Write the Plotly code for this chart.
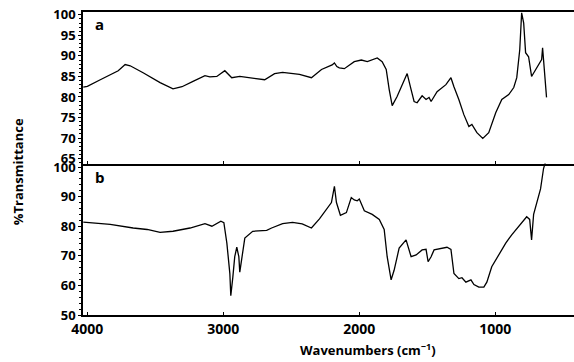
import plotly.graph_objects as go
from plotly.subplots import make_subplots

# Spectrum a (top panel)
wn_a = [4030, 4000, 3905, 3773, 3722, 3685, 3590, 3465, 3370, 3304, 3223, 3135, 3099, 3048,
        2989, 2938, 2879, 2784, 2696, 2623, 2564, 2440, 2352, 2278, 2200, 2183, 2165, 2147,
        2110, 2037, 1985, 1941, 1868, 1832, 1802, 1780, 1758, 1722, 1685, 1648, 1619, 1597,
        1575, 1538, 1509, 1487, 1472, 1428, 1363, 1326, 1304, 1268, 1231, 1194, 1172, 1135,
        1092, 1048, 996, 952, 901, 864, 842, 820, 806, 791, 777, 755, 733, 703, 659, 652,
        637, 623]
t_a = [82.4, 82.6, 84.2, 86.4, 87.9, 87.6, 85.9, 83.5, 82.0, 82.5, 83.8, 85.2, 84.9, 85.0,
       86.4, 84.7, 85.0, 84.5, 84.2, 85.7, 86.0, 85.5, 84.7, 86.7, 87.8, 88.3, 87.4, 87.1,
       86.9, 88.6, 89.0, 88.6, 89.5, 88.6, 86.7, 81.8, 77.9, 80.1, 83.0, 85.7, 81.8, 78.9,
       78.6, 80.3, 79.4, 79.9, 78.9, 81.3, 83.0, 84.7, 82.5, 79.4, 75.7, 72.8, 73.3, 71.3,
       69.9, 71.3, 76.2, 79.4, 80.6, 82.3, 84.7, 91.5, 100.5, 98.0, 90.8, 89.8, 85.0, 86.7,
       89.1, 92.0, 84.7, 79.9]

# Spectrum b (bottom panel)
wn_b = [4030, 3832, 3663, 3560, 3465, 3370, 3245, 3135, 3084, 3018, 2996, 2974, 2952, 2945,
        2930, 2916, 2901, 2886, 2879, 2864, 2842, 2784, 2681, 2645, 2564, 2491, 2420, 2352,
        2293, 2205, 2183, 2168, 2139, 2095, 2059, 2037, 2015, 2000, 1963, 1905, 1853, 1817,
        1795, 1766, 1744, 1707, 1656, 1619, 1582, 1538, 1509, 1494, 1472, 1450, 1399, 1355,
        1326, 1304, 1268, 1245, 1216, 1179, 1157, 1121, 1084, 1062, 1026, 974, 923, 879,
        828, 769, 747, 733, 718, 667, 645, 630]
t_b = [81.4, 80.6, 79.4, 78.9, 77.9, 78.3, 79.4, 80.9, 80.0, 81.7, 81.2, 74.3, 64.0, 56.5,
       62.8, 69.7, 72.9, 69.7, 64.5, 69.7, 76.0, 78.3, 78.6, 79.4, 80.9, 81.3, 80.8, 79.4,
       82.5, 88.0, 93.5, 88.0, 83.7, 84.6, 89.7, 88.9, 88.6, 89.2, 85.2, 84.0, 82.3, 78.9,
       69.7, 61.9, 65.1, 72.6, 75.4, 69.7, 70.3, 72.0, 72.2, 68.0, 69.7, 72.0, 72.6, 72.9,
       72.2, 64.0, 62.3, 62.6, 61.1, 61.9, 60.3, 59.4, 59.4, 61.1, 66.3, 70.3, 74.3, 77.1,
       80.0, 83.2, 82.3, 75.4, 84.0, 92.6, 99.5, 101.8]

x_ticks = [4000, 3000, 2000, 1000]
ya_ticks = [65, 70, 75, 80, 85, 90, 95, 100]
yb_ticks = [50, 60, 70, 80, 90, 100]

FONT = "Open Sans"

fig = make_subplots(rows=2, cols=1, shared_xaxes=True, vertical_spacing=0)
fig.add_trace(go.Scatter(x=wn_a, y=t_a, mode="lines",
                         line=dict(color="black", width=1.3), showlegend=False), row=1, col=1)
fig.add_trace(go.Scatter(x=wn_b, y=t_b, mode="lines",
                         line=dict(color="black", width=1.3), showlegend=False), row=2, col=1)

axfont = dict(family=FONT, size=13, color="black", weight="bold")

for r in (1, 2):
    fig.update_xaxes(row=r, col=1, range=[4032, 421], showgrid=False, zeroline=False,
                     showline=True, linecolor="black", linewidth=2,
                     ticks="inside", ticklen=3, tickcolor="black",
                     tickvals=x_ticks, ticktext=[str(v) for v in x_ticks],
                     tickfont=dict(family=FONT, size=14, color="black", weight="bold"))
fig.update_xaxes(row=1, col=1, showticklabels=False, mirror=True)
fig.update_xaxes(row=2, col=1, mirror=False)

fig.update_yaxes(row=1, col=1, range=[63.8, 100.7], tickvals=ya_ticks,
                 ticktext=[str(v) for v in ya_ticks])
fig.update_yaxes(row=2, col=1, range=[50, 101.2], tickvals=yb_ticks,
                 ticktext=[str(v) for v in yb_ticks])
fig.update_yaxes(showgrid=False, zeroline=False, showline=True, linecolor="black",
                 linewidth=1.5, ticks="outside", ticklen=3, tickcolor="black",
                 tickfont=axfont,
                 minor=dict(ticks="outside", ticklen=2, tickcolor="black", dtick=1))
fig.update_yaxes(row=2, col=1, minor=dict(dtick=2))

fig.update_layout(
    width=574, height=362,
    margin=dict(l=83, r=0, t=12, b=47),
    paper_bgcolor="white", plot_bgcolor="white",
    font=dict(family=FONT, color="black"),
    annotations=[
        dict(text="a", xref="paper", yref="paper", x=0.0346, y=0.959, showarrow=False,
             xanchor="center", yanchor="middle",
             font=dict(family=FONT, size=15, weight="bold", color="black")),
        dict(text="b", xref="paper", yref="paper", x=0.0346, y=0.455, showarrow=False,
             xanchor="center", yanchor="middle",
             font=dict(family=FONT, size=15, weight="bold", color="black")),
        dict(text="%Transmittance", xref="paper", yref="paper", x=-0.132, y=0.472,
             showarrow=False, textangle=-90, xanchor="center", yanchor="middle",
             font=dict(family=FONT, size=13, weight="bold", color="black")),
        dict(text="Wavenumbers (cm<sup>−1</sup>)", xref="paper", yref="paper",
             x=0.58, y=-0.1155, showarrow=False, xanchor="center", yanchor="middle",
             font=dict(family=FONT, size=13, weight="bold", color="black")),
    ],
)

fig.write_html("out.html", config={"displayModeBar": False},
               post_script="document.body.style.margin='0';")
